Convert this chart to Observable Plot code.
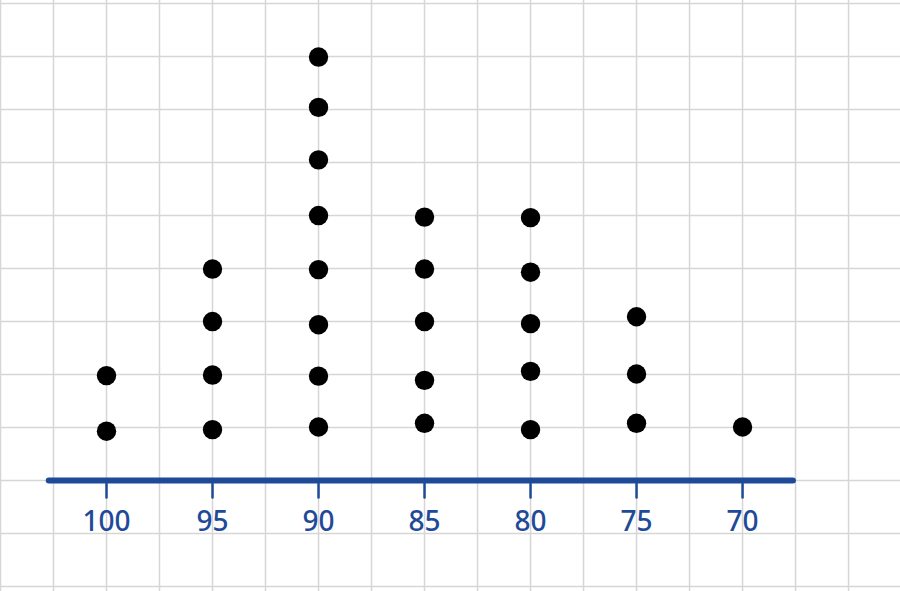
<!DOCTYPE html>
<html>
<head>
<meta charset="utf-8">
<script src="https://cdn.jsdelivr.net/npm/d3@7"></script>
<script src="https://cdn.jsdelivr.net/npm/@observablehq/plot@0.6"></script>
<style>
  html, body { margin: 0; padding: 0; background: #ffffff; }
  #chart svg { display: block; }
</style>
</head>
<body>
<div id="chart"></div>
<script>
// Scores shown on the number line (tick labels)
const scores = [100, 95, 90, 85, 80, 75, 70];
// Stacked dot levels (hand-drawn, slightly uneven)
const levels100 = [0.93, 1.98];
const levels95 = [0.96, 1.99, 3.0, 3.99];
const levels90 = [1.01, 1.97, 2.94, 3.98, 5.0, 6.05, 7.04, 7.99];
const levels85 = [1.08, 1.89, 3.0, 3.99, 4.97];
const levels80 = [0.96, 2.06, 2.96, 3.93, 4.96];
const levels75 = [1.08, 2.01, 3.09];
const levels70 = [1.01];
// Ends of the drawn number line (in score units)
const axisStart = 102.7;
const axisEnd = 67.6;

const levelsByScore = [levels100, levels95, levels90, levels85, levels80, levels75, levels70];
const dots = scores.flatMap((s, i) => levelsByScore[i].map(l => ({score: s, level: l})));

const gridX = d3.range(105, 62, -2.5);
const gridY = d3.range(-2, 10, 1);
const blue = "#1f4a9a";

const chart = Plot.plot({
  width: 900,
  height: 591,
  marginTop: 0, marginRight: 0, marginBottom: 0, marginLeft: 0,
  style: {background: "#ffffff", overflow: "visible"},
  x: {domain: [105, 62.55], axis: null},
  y: {domain: [-2.094, 9.057], axis: null},
  marks: [
    Plot.ruleX(gridX, {stroke: "#d6d6d6", strokeWidth: 1.5}),
    Plot.ruleY(gridY, {stroke: "#d6d6d6", strokeWidth: 1.5}),
    Plot.ruleY([0], {x1: axisStart, x2: axisEnd, stroke: blue, strokeWidth: 6, strokeLinecap: "round"}),
    Plot.ruleX(scores, {x: d => d, y1: -0.07, y2: -0.33, stroke: blue, strokeWidth: 2.5, strokeLinecap: "round"}),
    Plot.text(scores, {x: d => d, y: -0.78, text: d => String(d), fill: blue,
      fontSize: 28, fontWeight: 500, fontFamily: "Noto Sans", textAnchor: "middle", lineAnchor: "middle",
      letterSpacing: 3}),
    Plot.dot(dots, {x: "score", y: "level", r: 9.7, fill: "#000000", stroke: "none"})
  ]
});
document.getElementById("chart").append(chart);
</script>
</body>
</html>
